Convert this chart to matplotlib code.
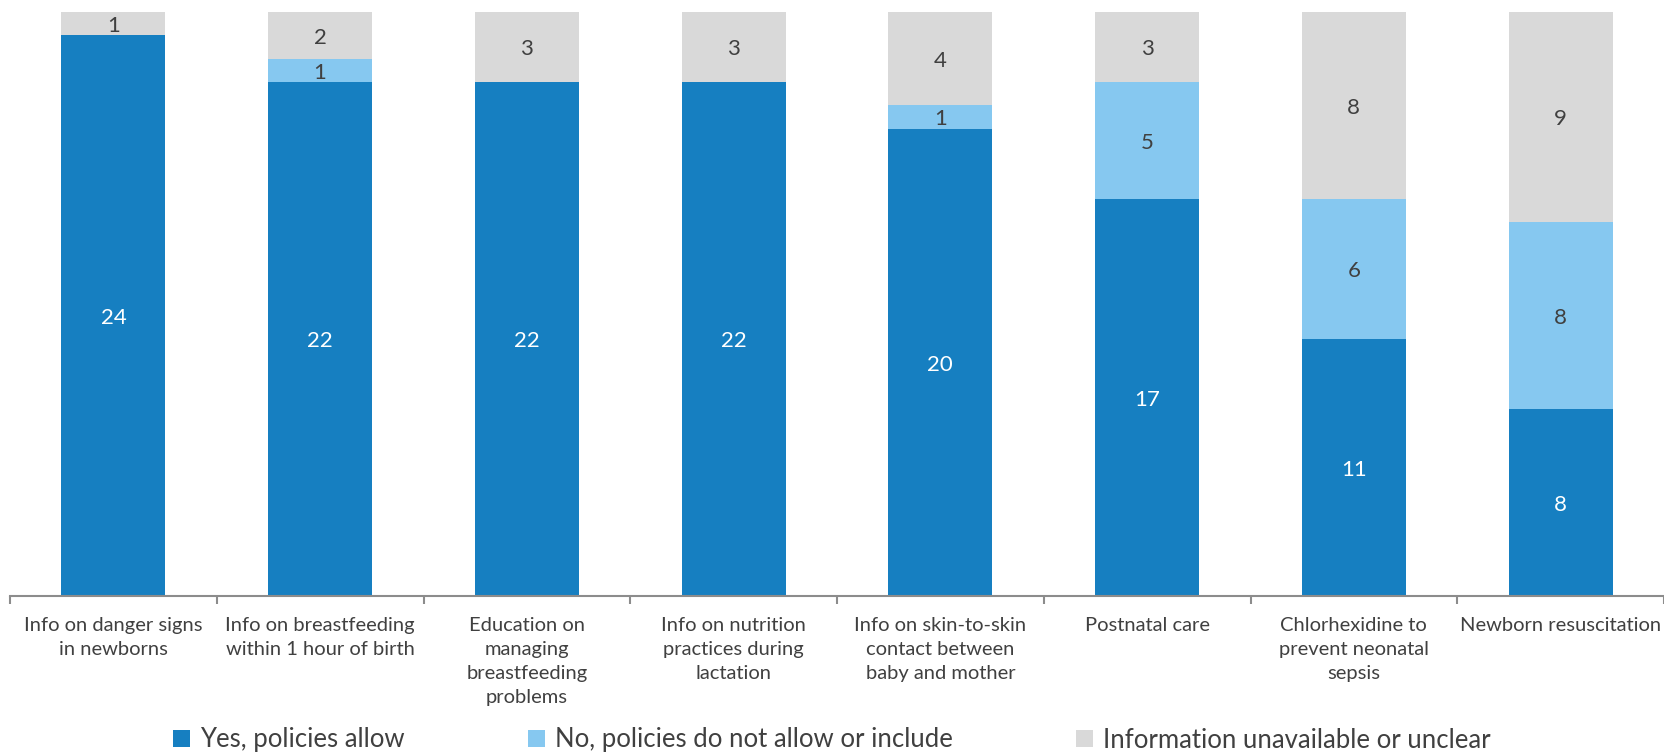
import matplotlib.pyplot as plt
import numpy as np

plt.rcParams['font.family'] = ['Lato', 'DejaVu Sans']

# data
categories = [
    "Info on danger signs\nin newborns",
    "Info on breastfeeding\nwithin 1 hour of birth",
    "Education on\nmanaging\nbreastfeeding\nproblems",
    "Info on nutrition\npractices during\nlactation",
    "Info on skin-to-skin\ncontact between\nbaby and mother",
    "Postnatal care",
    "Chlorhexidine to\nprevent neonatal\nsepsis",
    "Newborn resuscitation",
]
yes_allow = [24, 22, 22, 22, 20, 17, 11, 8]
no_allow = [0, 1, 0, 0, 1, 5, 6, 8]
unclear = [1, 2, 3, 3, 4, 3, 8, 9]
series_names = ["Yes, policies allow", "No, policies do not allow or include",
                "Information unavailable or unclear"]

colors = ["#167FC1", "#86C8F0", "#D9D9D9"]
text_colors = ["white", "#404040", "#404040"]

fig = plt.figure(figsize=(16.64, 7.54), dpi=100)
ax = fig.add_axes([10 / 1664, 1 - 596 / 754, 1 - 10 / 1664, (596 - 12) / 754])

x = np.arange(len(categories))
bottom = np.zeros(len(categories))
for vals, col, tcol, name in zip([yes_allow, no_allow, unclear], colors, text_colors, series_names):
    vals = np.array(vals)
    ax.bar(x, vals, width=0.503, bottom=bottom, color=col, label=name)
    for xi, b, v in zip(x, bottom, vals):
        if v > 0:
            ax.text(xi, b + v / 2 - 0.1, str(v), ha="center", va="center",
                    color=tcol, fontsize=16)
    bottom += vals

ax.set_xlim(-0.5, len(categories) - 0.5)
ax.set_ylim(0, 25)
ax.set_yticks([])
for s in ["top", "right", "left"]:
    ax.spines[s].set_visible(False)
ax.spines["bottom"].set_color("#8C8C8C")
ax.spines["bottom"].set_linewidth(1.5)

# boundary ticks as major, labels on minor
ax.set_xticks(np.arange(-0.5, len(categories), 1.0))
ax.set_xticklabels([])
ax.tick_params(axis="x", which="major", length=6, width=1.5, color="#8C8C8C")
ax.set_xticks(x, minor=True)
ax.set_xticklabels(categories, minor=True, fontsize=14.5, color="#404040", linespacing=1.5)
ax.tick_params(axis="x", which="minor", length=0, pad=15)

fig.legend(loc="center", bbox_to_anchor=(0.5, 1 - 740 / 754), ncol=3, frameon=False,
           fontsize=18.5, handlelength=0.65, handleheight=0.65, handletextpad=0.4,
           columnspacing=4.8, labelcolor="#404040")

fig.savefig("out.png", dpi=100)
